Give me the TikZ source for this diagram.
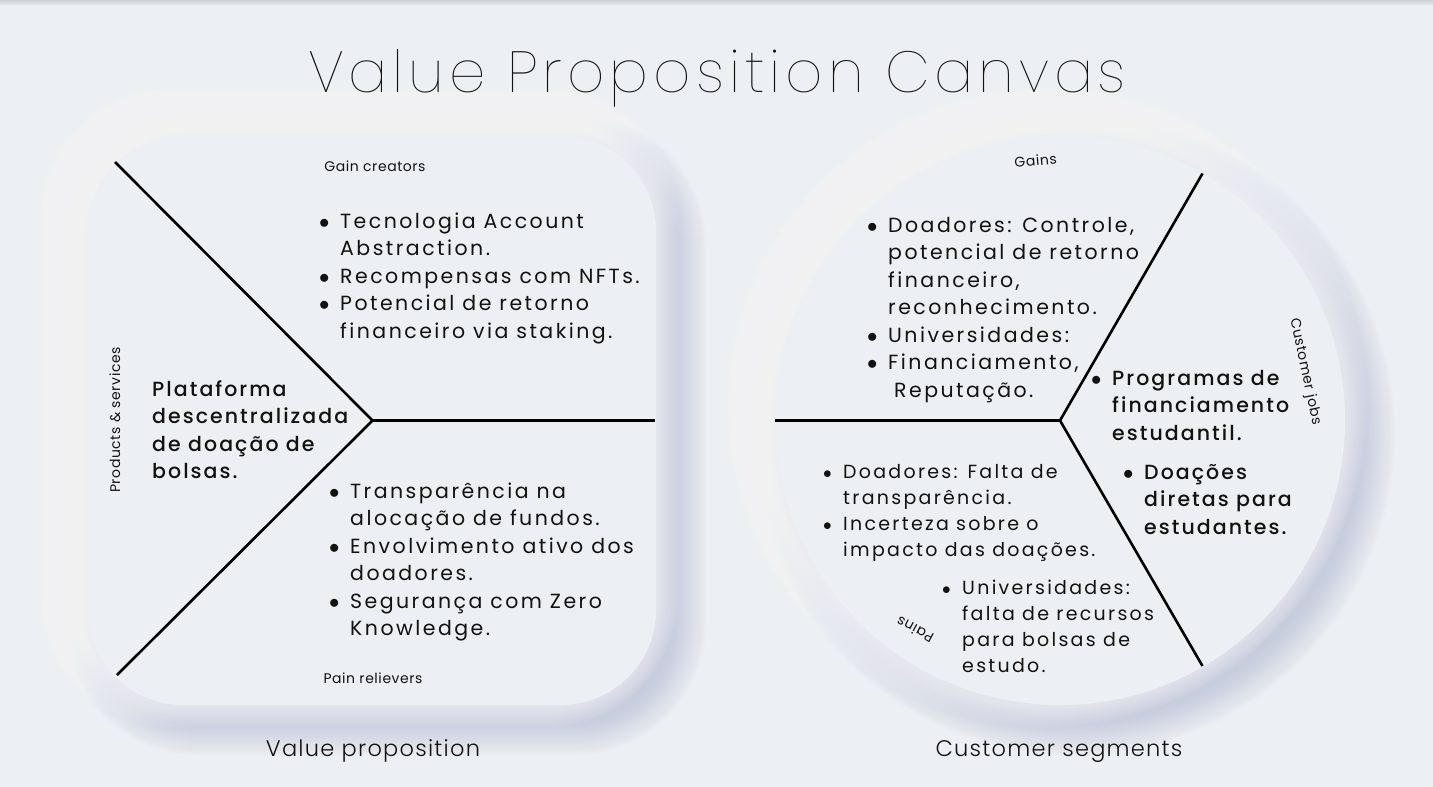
\documentclass[tikz,border=0pt]{standalone}
\usepackage{fontspec}
\setmainfont{Poppins}
\newfontfamily\bodyf{Poppins}[LetterSpace=12]
\newfontfamily\bodym{Poppins Medium}[LetterSpace=10]
\newfontfamily\titlef{Poppins Thin}[LetterSpace=8.5]
\newfontfamily\labelf{Poppins}[LetterSpace=4]
\newfontfamily\capf{Poppins Light}[LetterSpace=5.5]
\usetikzlibrary{calc}
\definecolor{bg}{RGB}{236,239,243}
\definecolor{shd}{RGB}{178,184,210}
\definecolor{ink}{RGB}{18,18,18}
\definecolor{topline}{RGB}{205,208,212}
\newcommand\bul{\makebox[21pt][l]{$\bullet$}}
\newcommand\ind{\hspace*{21pt}}
\newcommand\fst{\rule{0pt}{20pt}}
\newcommand\fsts{\rule{0pt}{19pt}}
\begin{document}
\begin{tikzpicture}[x=1pt,y=-1pt,
  body/.style={anchor=north west, inner sep=0pt, align=left, text=ink,
    font=\bodyf\fontsize{20.5}{27.5}\selectfont},
  bodytight/.style={body, font=\bodyf\fontsize{19}{26}\selectfont},
  bodybold/.style={body, font=\bodym\fontsize{20.5}{27.5}\selectfont},
  small/.style={inner sep=0pt, text=ink, font=\labelf\fontsize{14}{16}\selectfont},
  caption/.style={anchor=base, inner sep=0pt, text=ink, font=\capf\fontsize{22.5}{26}\selectfont},
  divider/.style={line width=2.6pt, draw=black, line join=miter}]
\useasboundingbox (0,0) rectangle (1433,787);
\fill[bg] (0,0) rectangle (1433,787);
\shade[top color=topline, bottom color=bg] (0,0) rectangle (1433,6);
% soft dark shadows (bottom-right)
\foreach \e in {2,4,...,36} {
  \fill[shd, opacity=0.04, rounded corners={(95+\e)*1pt}]
    (88-\e+14,136-\e+14) rectangle (656+\e+14,705+\e+14);
  \fill[shd, opacity=0.04] (1060+14,420+14) circle[radius={(285+\e)*1pt}];
}
% soft light shadows (top-left)
\foreach \e in {2,4,...,36} {
  \fill[white, opacity=0.065, rounded corners={(95+\e)*1pt}]
    (88-\e-14,136-\e-14) rectangle (656+\e-14,705+\e-14);
  \fill[white, opacity=0.065] (1060-14,420-14) circle[radius={(285+\e)*1pt}];
}
% main shapes
\fill[bg, rounded corners=95pt] (88,136) rectangle (656,705);
\fill[bg] (1060,420) circle[radius=285pt];

% title
\node[anchor=base, inner sep=0pt, text=ink, font=\titlef\fontsize{58}{64}\selectfont] (title) at (717,92) {Value Proposition Canvas};

% value proposition square
\coordinate (vp) at (372.5,420.5);
\coordinate (vpA) at (115,162);
\coordinate (vpB) at (655,420.5);
\coordinate (vpC) at (117,675);
\draw[divider] (vpA) -- (vp) -- (vpC);
\draw[divider] (vp) -- (vpB);

\node[small, anchor=base] (gc) at (375,171) {Gain creators};
\node[small, anchor=base] (pr) at (373,683) {Pain relievers};
\node[small, anchor=base, rotate=90] (ps) at (120,420) {Products \& services};

\node[body] (gclist) at (319,208) {\fst\bul Tecnologia Account\\
\ind Abstraction.\\
\bul Recompensas com NFTs.\\
\bul Potencial de retorno\\
\ind financeiro via staking.};

\node[bodybold] (prod) at (152,376) {\fst Plataforma\\
descentralizada\\
de doação de\\
bolsas.};

\node[body] (prlist) at (329,478) {\fst\bul Transparência na\\
\ind alocação de fundos.\\
\bul Envolvimento ativo dos\\
\ind doadores.\\
\bul Segurança com Zero\\
\ind Knowledge.};

\node[caption] (vpcap) at (373,756) {Value proposition};

% customer segments circle
\coordinate (cs) at (1060,420.5);
\coordinate (csA) at (775,420.5);
\coordinate (csB) at (1202.5,173.5);
\coordinate (csC) at (1202.5,666);
\draw[divider] (csB) -- (cs) -- (csC);
\draw[divider] (cs) -- (csA);

\node[small, anchor=base, rotate=5] (gains) at (1036,166) {Gains};
\node[small, anchor=center, rotate=-78] (cj) at (1305,371.5) {Customer jobs};
\node[small, anchor=center, rotate=152] (pains) at (915,630) {Pains};

\node[body] (gainlist) at (867,212) {\fst\bul Doadores: Controle,\\
\ind potencial de retorno\\
\ind financeiro,\\
\ind reconhecimento.\\
\bul Universidades:\\
\bul Financiamento,\\
\hspace*{27pt}Reputação.};

\node[bodybold] (jobs1) at (1091,365) {\fst\bul Programas de\\
\ind financiamento\\
\ind estudantil.};

\node[bodybold] (jobs2) at (1123,459) {\fst\bul Doações\\
\ind diretas para\\
\ind estudantes.};

\node[bodytight] (pain1) at (823,459) {\fsts\makebox[20pt][l]{$\bullet$}Doadores: Falta de\\
\hspace*{20pt}transparência.\\
\makebox[20pt][l]{$\bullet$}Incerteza sobre o\\
\hspace*{20pt}impacto das doações.};

\node[bodytight] (pain2) at (942,575) {\fsts\makebox[20pt][l]{$\bullet$}Universidades:\\
\hspace*{20pt}falta de recursos\\
\hspace*{20pt}para bolsas de\\
\hspace*{20pt}estudo.};

\node[caption] (cscap) at (1059,756) {Customer segments};
\end{tikzpicture}
\end{document}
